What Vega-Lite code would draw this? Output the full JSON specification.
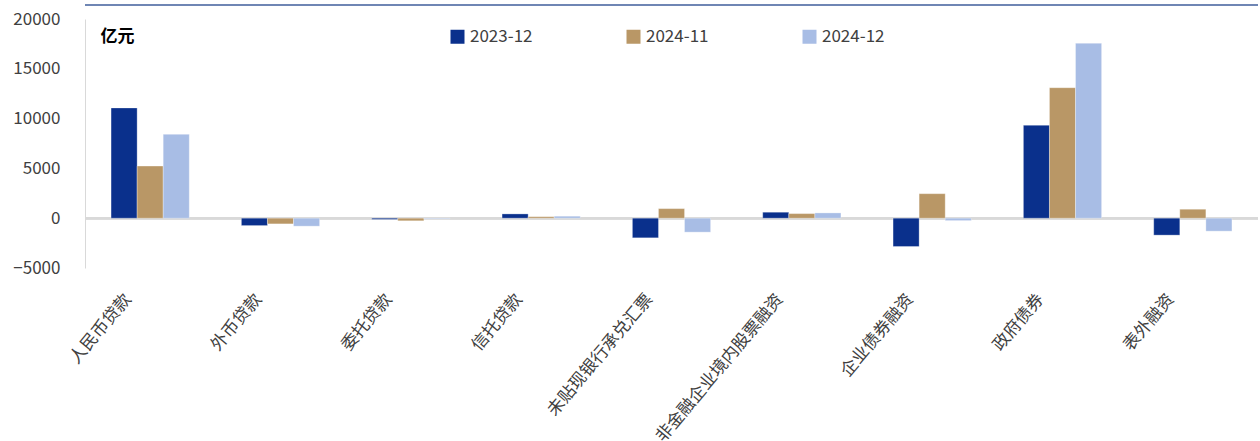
{
  "$schema": "https://vega.github.io/schema/vega-lite/v6.json",
  "width": 1173,
  "height": 249,
  "autosize": {"type": "none"},
  "padding": {"left": 85, "top": 19, "right": 2, "bottom": 173},
  "background": "#ffffff",
  "config": {
    "view": {"stroke": null},
    "font": "Noto Sans CJK SC"
  },
  "data": {
    "values": [
      {"cat": "人民币贷款", "s": "2023-12", "v": 11070},
      {"cat": "人民币贷款", "s": "2024-11", "v": 5230},
      {"cat": "人民币贷款", "s": "2024-12", "v": 8420},
      {"cat": "外币贷款", "s": "2023-12", "v": -740},
      {"cat": "外币贷款", "s": "2024-11", "v": -570},
      {"cat": "外币贷款", "s": "2024-12", "v": -800},
      {"cat": "委托贷款", "s": "2023-12", "v": -120},
      {"cat": "委托贷款", "s": "2024-11", "v": -260},
      {"cat": "委托贷款", "s": "2024-12", "v": -60},
      {"cat": "信托贷款", "s": "2023-12", "v": 430},
      {"cat": "信托贷款", "s": "2024-11", "v": 150},
      {"cat": "信托贷款", "s": "2024-12", "v": 200},
      {"cat": "未贴现银行承兑汇票", "s": "2023-12", "v": -1970},
      {"cat": "未贴现银行承兑汇票", "s": "2024-11", "v": 960},
      {"cat": "未贴现银行承兑汇票", "s": "2024-12", "v": -1400},
      {"cat": "非金融企业境内股票融资", "s": "2023-12", "v": 600},
      {"cat": "非金融企业境内股票融资", "s": "2024-11", "v": 460},
      {"cat": "非金融企业境内股票融资", "s": "2024-12", "v": 530},
      {"cat": "企业债券融资", "s": "2023-12", "v": -2840},
      {"cat": "企业债券融资", "s": "2024-11", "v": 2460},
      {"cat": "企业债券融资", "s": "2024-12", "v": -240},
      {"cat": "政府债券", "s": "2023-12", "v": 9330},
      {"cat": "政府债券", "s": "2024-11", "v": 13100},
      {"cat": "政府债券", "s": "2024-12", "v": 17560},
      {"cat": "表外融资", "s": "2023-12", "v": -1700},
      {"cat": "表外融资", "s": "2024-11", "v": 900},
      {"cat": "表外融资", "s": "2024-12", "v": -1300}
    ]
  },
  "layer": [
    {
      "mark": {"type": "rule", "clip": false, "color": "#6f86b4", "strokeWidth": 2},
      "encoding": {"y": {"datum": 21400, "type": "quantitative"}}
    },
    {
      "mark": {"type": "rule", "color": "#d9d9d9", "strokeWidth": 2},
      "encoding": {"y": {"datum": 0, "type": "quantitative"}}
    },
    {
      "mark": {"type": "bar", "stroke": "#ffffff", "strokeWidth": 0.5, "strokeOpacity": 0.6},
      "encoding": {
        "x": {
          "field": "cat",
          "type": "nominal",
          "sort": null,
          "scale": {"paddingInner": 0.4, "paddingOuter": 0.2},
          "axis": {
            "title": null,
            "domain": false,
            "ticks": false,
            "labelAngle": -50,
            "labelAlign": "right",
            "labelBaseline": "middle",
            "labelFontSize": 17,
            "labelColor": "#404040",
            "labelPadding": 28,
            "labelOffset": -22,
            "labelLimit": 400
          }
        },
        "xOffset": {"field": "s", "type": "nominal", "sort": ["2023-12", "2024-11", "2024-12"]},
        "y": {
          "field": "v",
          "type": "quantitative",
          "scale": {"domain": [-5000, 20000], "nice": false},
          "axis": {
            "values": [-5000, 0, 5000, 10000, 15000, 20000],
            "format": "d",
            "grid": false,
            "ticks": false,
            "domainColor": "#d9d9d9",
            "domainWidth": 1,
            "labelFontSize": 17,
            "labelColor": "#404040",
            "labelPadding": 25,
            "title": "亿元",
            "titleAngle": 0,
            "titleAlign": "left",
            "titleBaseline": "middle",
            "titleX": 15,
            "titleY": 17,
            "titleFontSize": 17,
            "titleFontWeight": "bold",
            "titleColor": "#000000"
          }
        },
        "color": {
          "field": "s",
          "type": "nominal",
          "scale": {"domain": ["2023-12", "2024-11", "2024-12"], "range": ["#0a308c", "#b99766", "#a8bde5"]},
          "legend": {
            "title": null,
            "orient": "none",
            "legendX": 364,
            "legendY": 9,
            "direction": "horizontal",
            "columns": 3,
            "symbolType": "square",
            "symbolSize": 196,
            "symbolStrokeWidth": 0,
            "labelFontSize": 17,
            "labelColor": "#404040",
            "labelOffset": 4,
            "columnPadding": 92,
            "padding": 0
          }
        }
      }
    }
  ]
}
